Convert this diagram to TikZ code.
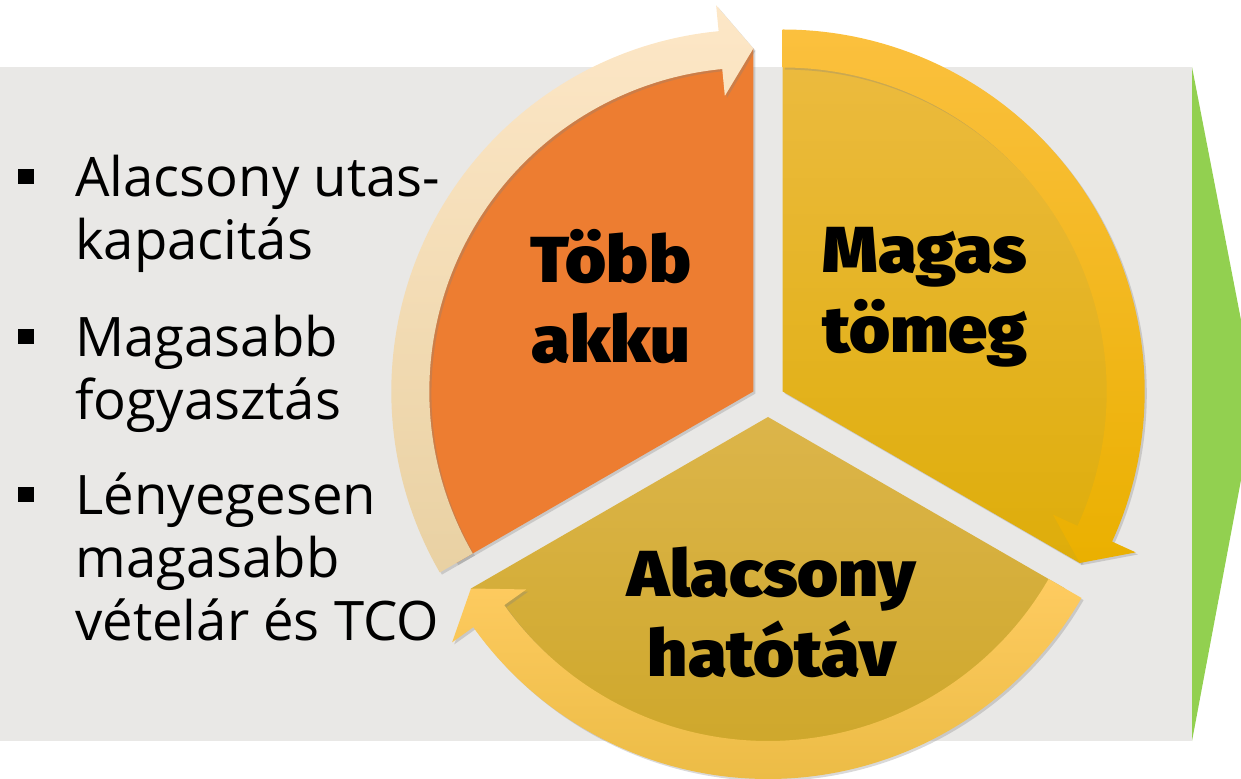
\documentclass[tikz,border=0pt]{standalone}
\usepackage{fontspec}
\setmainfont{Open Sans}
\newfontfamily\heavyfont{Fira Sans Black}[FakeStretch=1.08]
\usepackage{tikz}
\usetikzlibrary{shadows}
\usepackage{color}
\definecolor{Bg-gray}{RGB}{233,232,230}
\definecolor{Bg-green}{RGB}{146,208,80}
\definecolor{Seg-orange}{RGB}{237,125,49}
\definecolor{Ring-cream-1}{RGB}{253,231,199}
\definecolor{Ring-cream-2}{RGB}{233,209,163}
\definecolor{Seg-yellow-1}{RGB}{236,187,64}
\definecolor{Seg-yellow-2}{RGB}{240,188,16}
\definecolor{Seg-yellow-3}{RGB}{222,173,10}
\definecolor{Ring-yellow-1}{RGB}{251,192,62}
\definecolor{Ring-yellow-2}{RGB}{253,187,10}
\definecolor{Ring-yellow-3}{RGB}{234,176,0}
\definecolor{Seg-gold-1}{RGB}{220,181,74}
\definecolor{Seg-gold-2}{RGB}{204,165,38}
\definecolor{Ring-gold-1}{RGB}{254,203,96}
\definecolor{Ring-gold-2}{RGB}{236,188,70}

\begin{document}
\begin{tikzpicture}[x=0.02cm, y=0.02cm]
    \useasboundingbox (0,0) rectangle (1241,778);

    \tikzset{ lbl/.style ={font=\heavyfont\fontsize{37}{45.5}\selectfont, align=center, text=black} }
    \tikzset{ itm/.style ={font=\fontsize{31}{36}\selectfont, anchor=base west, inner sep=0} }
    \tikzset{ bul/.style ={fill=black, minimum width=0.32cm, minimum height=0.30cm, inner sep=0} }
    \tikzset{ shd/.style ={drop shadow={shadow xshift=1.2pt, shadow yshift=-1.2pt, opacity=0.3}} }

    % background and green arrow
    \fill[Bg-gray] (0,37) rectangle (1192,711);
    \fill[Bg-green] (1192,711) -- (1241,458) -- (1241,298) -- (1192,37) -- cycle;

    % orange segment
    \begin{scope}[shift={(753.3,386.5)}]
        \fill[Seg-orange, shd] (0,0) -- (90:343) arc[start angle=90, end angle=210, radius=343] -- cycle;
        \shade[top color=Ring-cream-1, bottom color=Ring-cream-2, shd]
            (210:362) arc[start angle=210, end angle=95.5, radius=362] -- (95.5:388) -- (90:343)
            -- (95.5:297) -- (95.5:324) arc[start angle=95.5, end angle=210, radius=324] -- cycle;
    \end{scope}

    % yellow segment
    \begin{scope}[shift={(782.7,386.5)}]
        \shade[top color=Seg-yellow-1, middle color=Seg-yellow-2, bottom color=Seg-yellow-3, shd]
            (0,0) -- (-30:343) arc[start angle=-30, end angle=90, radius=343] -- cycle;
        \shade[top color=Ring-yellow-1, middle color=Ring-yellow-2, bottom color=Ring-yellow-3, shd]
            (90:362) arc[start angle=90, end angle=-24.5, radius=362] -- (-24.5:388) -- (-30:343)
            -- (-24.5:297) -- (-24.5:324) arc[start angle=-24.5, end angle=90, radius=324] -- cycle;
    \end{scope}

    % gold segment
    \begin{scope}[shift={(768,361)}]
        \shade[top color=Seg-gold-1, bottom color=Seg-gold-2, shd]
            (0,0) -- (210:343) arc[start angle=210, end angle=330, radius=343] -- cycle;
        \shade[top color=Ring-gold-1, bottom color=Ring-gold-2, shd]
            (330:362) arc[start angle=330, end angle=215.5, radius=362] -- (215.5:388) -- (210:343)
            -- (215.5:297) -- (215.5:324) arc[start angle=215.5, end angle=330, radius=324] -- cycle;
    \end{scope}

    \node[lbl] (tobb)    at (611,481) {Több\\akku};
    \node[lbl] (magas)   at (925,481) {Magas\\tömeg};
    \node[lbl] (hatotav) at (772,166) {Alacsony\\hatótáv};

    \node[bul] (b1) at (26,601.5) {};
    \node[itm] (i1a) at (75,581) {Alacsony utas-};
    \node[itm] (i1b) at (75,518) {kapacitás};
    \node[bul] (b2) at (26,441.5) {};
    \node[itm] (i2a) at (75,421) {Magasabb};
    \node[itm] (i2b) at (75,358) {fogyasztás};
    \node[bul] (b3) at (26,283.5) {};
    \node[itm] (i3a) at (75,263) {Lényegesen};
    \node[itm] (i3b) at (75,200) {magasabb};
    \node[itm] (i3c) at (75,137) {vételár és TCO};
\end{tikzpicture}
\end{document}
